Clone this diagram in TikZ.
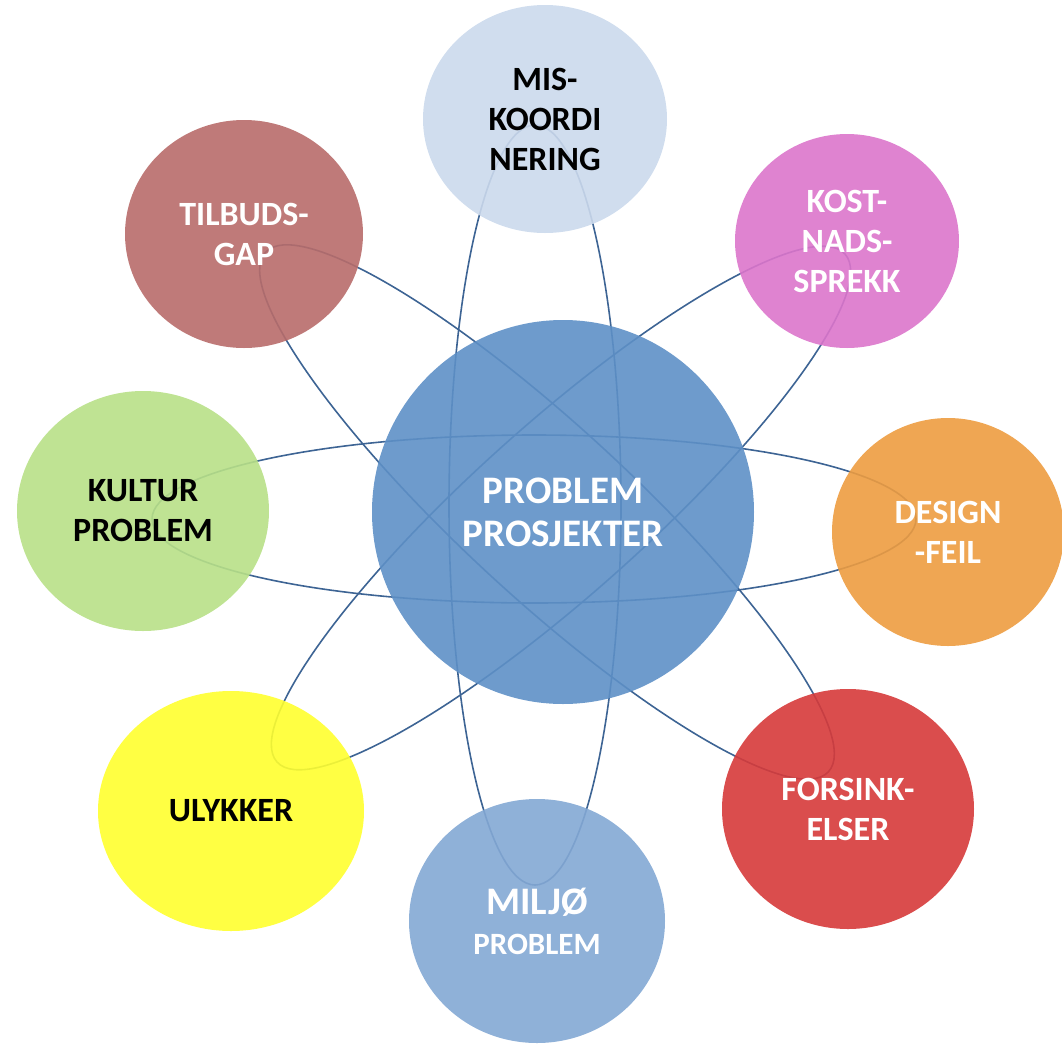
\documentclass[tikz,border=0pt]{standalone}
\usepackage{fontspec}
\setmainfont{Carlito}
\usetikzlibrary{shapes.geometric}
\definecolor{orbitblue}{HTML}{3D6494}
\definecolor{probblue}{HTML}{5E90C6}
\definecolor{misblue}{HTML}{CBD9EC}
\definecolor{kostpink}{HTML}{DC75CB}
\definecolor{designorange}{HTML}{ED9C40}
\definecolor{forsinkred}{HTML}{D63A3A}
\definecolor{miljoblue}{HTML}{83A8D4}
\definecolor{ulykkeryellow}{HTML}{FFFF2F}
\definecolor{kulturgreen}{HTML}{B8E087}
\definecolor{tilbudbrown}{HTML}{B86C6A}

\begin{document}
\begin{tikzpicture}[x=0.5pt, y=0.5pt,
		orbit/.style={draw=orbitblue, line width=0.8pt},
		bubble/.style={ellipse, inner sep=0pt, fill opacity=0.9, text opacity=1,
			align=center, text=white, font=\fontsize{17}{20}\selectfont\bfseries}]
		\useasboundingbox (0,0) rectangle (1062,-1045);
		% orbits
		\draw[orbit] (535,-505) ellipse (86 and 380);
		\draw[orbit] (534,-519) ellipse (382 and 84);
		\draw[orbit, rotate around={-42.7:(547,-512)}] (547,-512) ellipse (383 and 85);
		\draw[orbit, rotate around={41.8:(561,-508)}] (561,-508) ellipse (381 and 85);
		% bubbles
		\node[bubble, fill=probblue, minimum width=191pt, minimum height=192pt,
			font=\fontsize{19.5}{21.5}\selectfont\bfseries] (prob) at (563,-512) {PROBLEM\\PROSJEKTER};
		\node[bubble, fill=misblue, text=black, minimum width=122pt, minimum height=114pt] (mis) at (545,-119) {MIS-\\KOORDI\\NERING};
		\node[bubble, fill=kostpink, minimum width=112pt, minimum height=107pt] (kost) at (847,-241) {KOST-\\NADS-\\SPREKK};
		\node[bubble, fill=designorange, minimum width=116pt, minimum height=114pt] (design) at (948,-532) {DESIGN\\-FEIL};
		\node[bubble, fill=forsinkred, minimum width=126pt, minimum height=120pt] (forsink) at (848,-809) {FORSINK-\\ELSER};
		\node[bubble, fill=miljoblue, minimum width=128pt, minimum height=122pt] (miljo) at (537,-921)
			{{\fontsize{19.5}{21.5}\selectfont MILJØ}\\{\fontsize{15.5}{21.5}\selectfont PROBLEM}};
		\node[bubble, fill=ulykkeryellow, text=black, minimum width=133pt, minimum height=120pt] (ulykker) at (231,-811) {ULYKKER};
		\node[bubble, fill=kulturgreen, text=black, minimum width=126pt, minimum height=120pt] (kultur) at (143,-511) {KULTUR\\PROBLEM};
		\node[bubble, fill=tilbudbrown, minimum width=119pt, minimum height=114pt] (tilbud) at (244,-234) {TILBUDS-\\GAP};
	\end{tikzpicture}
\end{document}
